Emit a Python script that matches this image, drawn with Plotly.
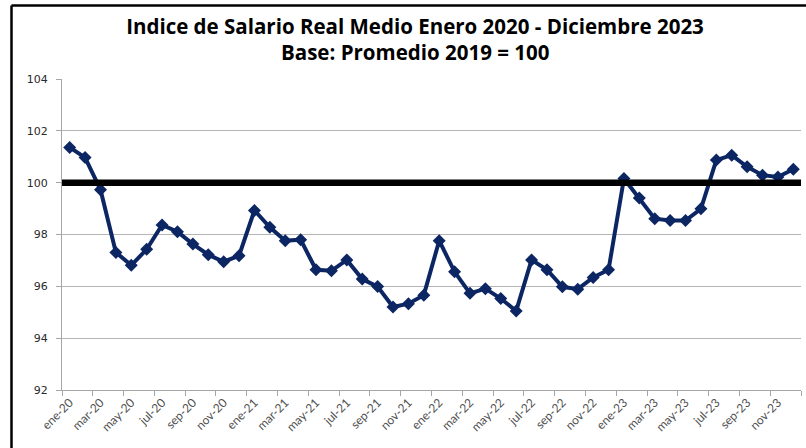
import plotly.graph_objects as go

months = ["ene", "feb", "mar", "abr", "may", "jun", "jul", "ago", "sep", "oct", "nov", "dic"]
years = ["20", "21", "22", "23"]
categories = [f"{m}-{y}" for y in years for m in months]

salario_real = [
    101.36, 100.97, 99.73, 97.31, 96.81, 97.43, 98.37, 98.11, 97.63, 97.22, 96.95, 97.18,
    98.93, 98.28, 97.76, 97.80, 96.64, 96.60, 97.02, 96.28, 95.99, 95.20, 95.33, 95.66,
    97.76, 96.56, 95.73, 95.91, 95.53, 95.05, 97.02, 96.64, 95.98, 95.89, 96.34, 96.64,
    100.16, 99.41, 98.61, 98.54, 98.54, 98.99, 100.87, 101.06, 100.61, 100.29, 100.22, 100.52,
]
base_value = 100
y_ticks = [92, 94, 96, 98, 100, 102, 104]
title_line1 = "Indice de Salario Real Medio Enero 2020 - Diciembre 2023"
title_line2 = "Base: Promedio 2019 = 100"

x_idx = list(range(len(categories)))
label_idx = x_idx[::2]
label_text = categories[::2]

W, H = 806, 448
L, R, T, B = 62, 5, 79, 58
pw, ph = W - L - R, H - T - B

def px(xw):
    return (xw - L) / pw

def py(yw):
    return 1 - (yw - T) / ph

fig = go.Figure()
fig.add_trace(go.Scatter(
    x=x_idx, y=salario_real, mode="lines+markers",
    line=dict(color="#0c2663", width=4),
    marker=dict(symbol="diamond", size=10, color="#0c2663"),
    showlegend=False, hoverinfo="x+y",
))

shapes = [
    dict(type="line", xref="paper", yref="y", x0=0, x1=1, y0=base_value, y1=base_value,
         line=dict(color="black", width=6.5), layer="above"),
    dict(type="line", xref="paper", yref="paper", x0=px(11.5), x1=px(11.5), y0=py(5.5), y1=py(470),
         line=dict(color="black", width=2.5)),
    dict(type="line", xref="paper", yref="paper", x0=px(11.5), x1=px(830), y0=py(5.5), y1=py(5.5),
         line=dict(color="black", width=2.5)),
]

fig.update_layout(
    width=W, height=H,
    margin=dict(l=L, r=R, t=T, b=B, autoexpand=False),
    paper_bgcolor="white", plot_bgcolor="white",
    title=dict(
        text="<b>" + title_line1 + "</b>",
        x=415 / W, xanchor="center", xref="container",
        y=1 - 27 / H, yanchor="middle", yref="container",
        font=dict(family="Open Sans", size=20.5, color="black"),
    ),
    annotations=[dict(
        text="<b>" + title_line2 + "</b>", showarrow=False,
        xref="paper", yref="paper", x=px(415), y=py(52), xanchor="center", yanchor="middle",
        font=dict(family="Open Sans", size=20.5, color="black"),
    )],
    shapes=shapes,
    xaxis=dict(
        range=[-0.5, len(categories) - 0.5],
        tickmode="array", tickvals=label_idx, ticktext=label_text,
        tickangle=-45, ticks="", automargin=False,
        tickfont=dict(family="Lato", size=12, color="#505050"),
        showgrid=False, zeroline=False,
        showline=True, linecolor="#a6a6a6", linewidth=1,
        minor=dict(tick0=-0.5, dtick=2, ticks="outside", ticklen=5, tickcolor="#a6a6a6", showgrid=False),
    ),
    yaxis=dict(
        range=[92, 104], tickmode="array", tickvals=y_ticks, automargin=False,
        ticks="outside", ticklen=5, tickcolor="#a6a6a6",
        tickfont=dict(family="DejaVu Sans", size=11, color="#2a2a2a"),
        showgrid=True, gridcolor="#b5b5b5", gridwidth=1,
        zeroline=False, showline=True, linecolor="#a6a6a6", linewidth=1,
        ticklabelstandoff=6,
    ),
)

fig.write_html(
    "out.html",
    config={"displayModeBar": False},
    post_script="document.body.style.margin='0';document.body.style.overflow='hidden';",
)
